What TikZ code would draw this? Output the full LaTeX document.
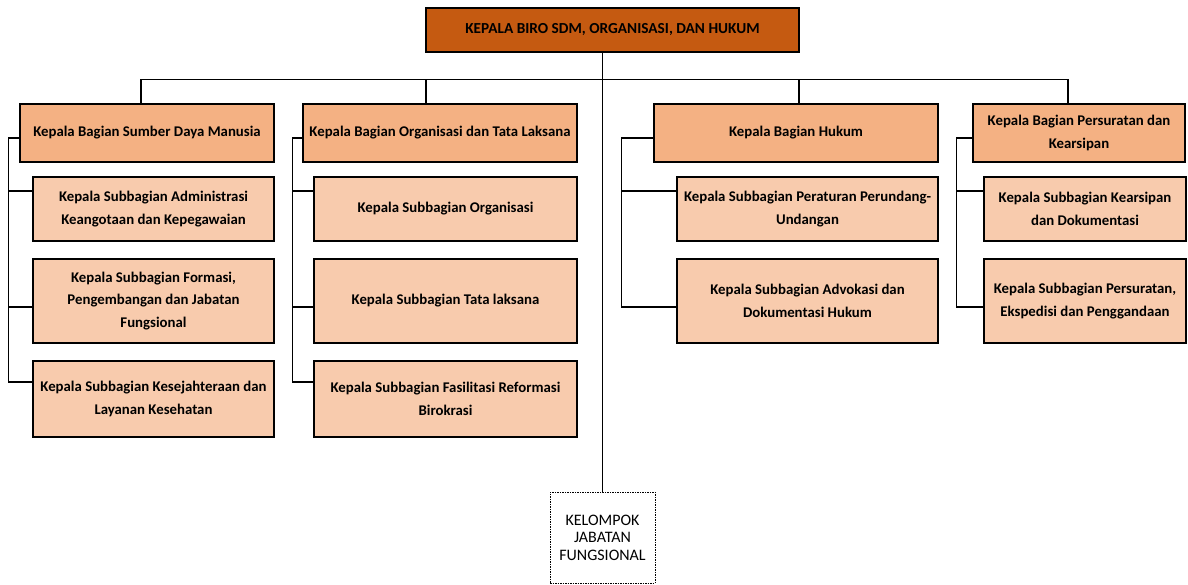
\documentclass[tikz,border=0pt]{standalone}
\usepackage{fontspec}
\setmainfont{Carlito}
\definecolor{biroclr}{HTML}{C55A11}
\definecolor{bagclr}{HTML}{F4B183}
\definecolor{subclr}{HTML}{F8CBAD}
\tikzset{
  box/.style={draw, line width=1.6pt, align=center, inner sep=2pt,
    font=\bfseries\fontsize{14.8}{22.5}\selectfont},
  biro/.style={box, fill=biroclr, minimum width=373, minimum height=44,
    font=\bfseries\fontsize{15.3}{22.5}\selectfont},
  bagian/.style={box, fill=bagclr, minimum height=58},
  subbag/.style={box, fill=subclr},
  jabfung/.style={draw, line width=0.8pt, dash pattern=on 1.5pt off 1pt,
    align=center, minimum width=105, minimum height=91,
    font=\fontsize{16}{17.5}\selectfont},
  link/.style={line width=1.3pt}
}
\begin{document}
\begin{tikzpicture}[x=1pt,y=-1pt]
\useasboundingbox (0,0) rectangle (1188,585);

\node[biro] (biro) at (612.5,30) {KEPALA BIRO SDM, ORGANISASI, DAN HUKUM};

% kepala bagian
\node[bagian, minimum width=254] (h1) at (147,133) {Kepala Bagian Sumber Daya Manusia};
\node[bagian, minimum width=274] (h2) at (440,133) {Kepala Bagian Organisasi dan Tata Laksana};
\node[bagian, minimum width=284] (h3) at (796,133) {Kepala Bagian Hukum};
\node[bagian, minimum width=212] (h4) at (1079,133) {Kepala Bagian Persuratan dan\\Kearsipan};

% kepala subbagian
\node[subbag, minimum width=241, minimum height=64] (s11) at (153.5,209) {Kepala Subbagian Administrasi\\Keangotaan dan Kepegawaian};
\node[subbag, minimum width=241, minimum height=84] (s12) at (153.5,301) {Kepala Subbagian Formasi,\\Pengembangan dan Jabatan\\Fungsional};
\node[subbag, minimum width=241, minimum height=76] (s13) at (153.5,399) {Kepala Subbagian Kesejahteraan dan\\Layanan Kesehatan};

\node[subbag, minimum width=263, minimum height=64] (s21) at (445.5,209) {Kepala Subbagian Organisasi};
\node[subbag, minimum width=263, minimum height=84] (s22) at (445.5,301) {Kepala Subbagian Tata laksana};
\node[subbag, minimum width=263, minimum height=76] (s23) at (445.5,399) {Kepala Subbagian Fasilitasi Reformasi\\Birokrasi};

\node[subbag, minimum width=261, minimum height=64] (s31) at (807.5,209) {Kepala Subbagian Peraturan Perundang-\\Undangan};
\node[subbag, minimum width=261, minimum height=84] (s32) at (807.5,301) {Kepala Subbagian Advokasi dan\\Dokumentasi Hukum};

\node[subbag, minimum width=202, minimum height=64] (s41) at (1085,209) {Kepala Subbagian Kearsipan\\dan Dokumentasi};
\node[subbag, minimum width=202, minimum height=84] (s42) at (1085,301) {Kepala Subbagian Persuratan,\\Ekspedisi dan Penggandaan};

\node[jabfung] (fung) at (602.5,537.5) {KELOMPOK\\JABATAN\\FUNGSIONAL};

% garis komando
\draw[line width=1pt] (fung.north |- biro.south) -- (fung.north);
\draw[link] ([xshift=-6]h1.north) -- ++(0,-24) -| ([xshift=-11]h4.north);
\draw[link] ([xshift=-14]h2.north) -- ++(0,-24);
\draw[link] ([xshift=3]h3.north) -- ++(0,-24);

\draw[link] ([yshift=-5]h1.west) -- ++(-11,0) |- ([yshift=17]s13.west);
\draw[link] ([yshift=-5]h2.west) -- ++(-10,0) |- ([yshift=17]s23.west);
\draw[link] ([yshift=-5]h3.west) -- ++(-32,0) |- ([yshift=-6]s32.west);
\draw[link] ([yshift=-5]h4.west) -- ++(-16,0) |- ([yshift=-6]s42.west);
\foreach \s/\y/\d in {s11/18/24, s12/-6/24, s21/18/21, s22/-6/21, s31/18/55, s41/18/27}
  \draw[link] ([yshift=\y]\s.west) -- ++(-\d,0);
\end{tikzpicture}
\end{document}
